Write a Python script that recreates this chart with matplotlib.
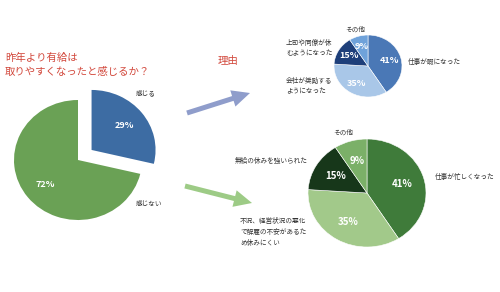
import matplotlib
matplotlib.use("Agg")
import matplotlib.pyplot as plt

plt.rcParams['font.family'] = ['Noto Sans CJK JP', 'DejaVu Sans']

# ---- data ----
title = "昨年より有給は\n取りやすくなったと感じるか？"
reason_title = "理由"

main_labels = ["感じる", "感じない"]
main_values = [29, 72]
main_colors = ["#3D6CA3", "#6AA155"]

top_labels = ["仕事が暇になった", "会社が奨励する\nようになった", "上司や同僚が休\nむようになった", "その他"]
top_values = [41, 35, 15, 9]
top_colors = ["#4A78B6", "#A9C7E8", "#1E3F7A", "#6FA2DA"]

bot_labels = ["仕事が忙しくなった", "不況、経営状況の悪化\nで解雇の不安があるた\nめ休みにくい", "無給の休みを強いられた", "その他"]
bot_values = [41, 35, 15, 9]
bot_colors = ["#3F7B3A", "#A2C98A", "#17371A", "#7BB068"]

W, H = 500, 292
fig = plt.figure(figsize=(W / 100, H / 100), dpi=100)
fig.patch.set_facecolor("white")

# overlay axes in pixel coordinates
ov = fig.add_axes([0, 0, 1, 1])
ov.set_xlim(0, W)
ov.set_ylim(H, 0)
ov.axis("off")

PAD = 1.4


def pie_ax(cx, cy, rx, ry, pad=PAD):
    left = (cx - rx * pad) / W
    bottom = 1 - (cy + ry * pad) / H
    ax = fig.add_axes([left, bottom, 2 * rx * pad / W, 2 * ry * pad / H])
    return ax


def finish(ax, pad=PAD):
    ax.set_aspect("auto")
    ax.set_xlim(-pad, pad)
    ax.set_ylim(-pad, pad)
    ax.axis("off")


def pct_fmt(values):
    total = sum(values)
    return lambda p: f"{p * total / 100:.0f}%"


# main pie
ax1 = pie_ax(78, 160, 64, 60)
ax1.pie(main_values, colors=main_colors, startangle=90, counterclock=False,
        explode=[0.27, 0], autopct=pct_fmt(main_values), pctdistance=0.66,
        radius=1.0, frame=False,
        textprops=dict(color="white", fontsize=6.5, fontweight="bold"),
        wedgeprops=dict(linewidth=0))
finish(ax1)

# top reason pie
ax2 = pie_ax(368, 66, 34, 31)
ax2.pie(top_values, colors=top_colors, startangle=90, counterclock=False,
        autopct=pct_fmt(top_values), pctdistance=0.66, frame=False,
        textprops=dict(color="white", fontsize=6.5, fontweight="bold"),
        wedgeprops=dict(linewidth=0.4, edgecolor="white"))
finish(ax2)

# bottom reason pie
ax3 = pie_ax(367, 193, 59, 54)
ax3.pie(bot_values, colors=bot_colors, startangle=90, counterclock=False,
        autopct=pct_fmt(bot_values), pctdistance=0.62, frame=False,
        textprops=dict(color="white", fontsize=7, fontweight="bold"),
        wedgeprops=dict(linewidth=0.4, edgecolor="white"))
finish(ax3)

# titles
red = "#D2483C"
ov.text(5, 65, title, color=red, fontsize=7.5, ha="left", va="center", linespacing=1.5)
ov.text(218, 61, reason_title, color=red, fontsize=7.5, ha="left", va="center")

lab = dict(fontsize=4.8, color="#333333", va="center", linespacing=1.45)
# main pie labels
ov.text(136, 93, main_labels[0], ha="left", **lab)
ov.text(136, 204, main_labels[1], ha="left", **lab)

# top pie labels
ov.text(408, 62, top_labels[0], ha="left", **lab)
ov.text(286, 86, top_labels[1], ha="left", **lab)
ov.text(286, 48, top_labels[2], ha="left", **lab)
ov.text(355, 30, top_labels[3], ha="center", **lab)

# bottom pie labels
ov.text(435, 177, bot_labels[0], ha="left", **lab)
ov.text(240, 232, bot_labels[1], ha="left", **lab)
ov.text(235, 161, bot_labels[2], ha="left", **lab)
ov.text(343, 133, bot_labels[3], ha="center", **lab)

# arrows
ov.arrow(187, 113, 250 - 187, 93 - 113, width=5, head_width=17, head_length=18,
         length_includes_head=True, color="#8F9DCB", linewidth=0)
ov.arrow(185, 186, 252 - 185, 203 - 186, width=5, head_width=17, head_length=18,
         length_includes_head=True, color="#9DCB86", linewidth=0)

fig.savefig("out.png", dpi=100, facecolor="white")
